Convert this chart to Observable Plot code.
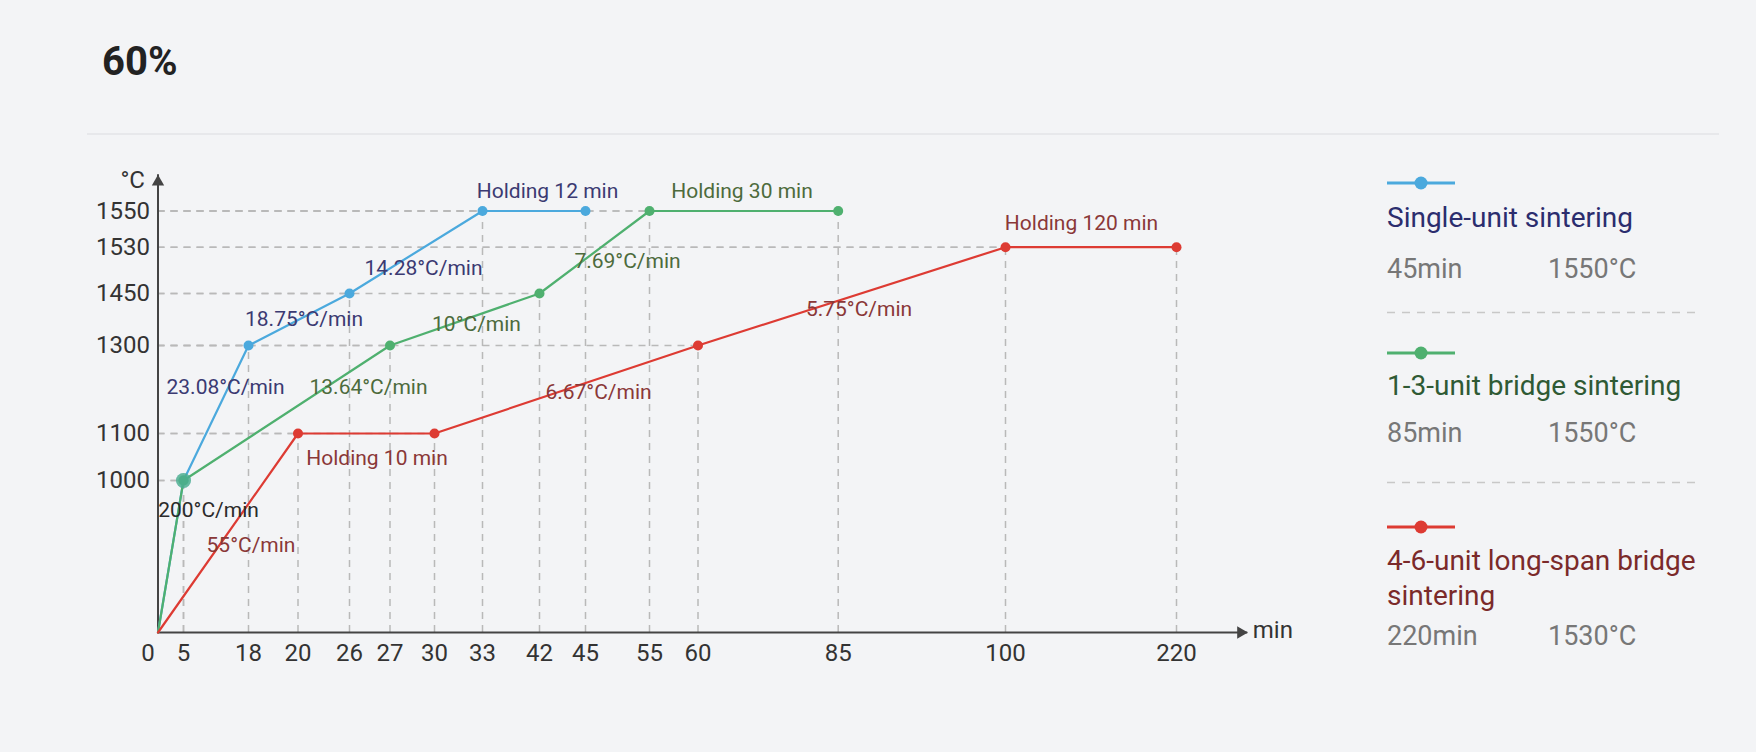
<!DOCTYPE html>
<html><head><meta charset="utf-8">
<script src="https://cdn.jsdelivr.net/npm/d3@7"></script>
<script src="https://cdn.jsdelivr.net/npm/@observablehq/plot@0.6"></script>
<style>
html,body{margin:0;padding:0;background:#f3f4f6;}
#wrap{position:relative;width:1756px;height:752px;overflow:hidden;font-family:Roboto,"Noto Sans",sans-serif;}
#chart{position:absolute;left:0;top:0;}
.abs{position:absolute;white-space:nowrap;}
</style></head><body><div id="wrap"><div id="chart"></div></div>
<script>
// ---------- data ----------
const chartTitle = "60%";
const xTicks = [0, 5, 18, 20, 26, 27, 30, 33, 42, 45, 55, 60, 85, 100, 220];
const yTicks = [1000, 1100, 1300, 1450, 1530, 1550];
const yBreaks = [0, 1000, 1100, 1300, 1450, 1530, 1550];
const seriesKeys = ["single", "bridge", "long"];
const seriesNames = ["Single-unit sintering", "1-3-unit bridge sintering", "4-6-unit long-span bridge sintering"];
const singleTime = [0, 5, 18, 26, 33, 45];
const singleTemp = [0, 1000, 1300, 1450, 1550, 1550];
const bridgeTime = [0, 5, 27, 42, 55, 85];
const bridgeTemp = [0, 1000, 1300, 1450, 1550, 1550];
const longTime = [0, 20, 30, 60, 100, 220];
const longTemp = [0, 1100, 1100, 1300, 1530, 1530];
const singleRates = ["200°C/min", "23.08°C/min", "18.75°C/min", "14.28°C/min", "Holding 12 min"];
const bridgeRates = [null, "13.64°C/min", "10°C/min", "7.69°C/min", "Holding 30 min"];
const longRates = ["55°C/min", "Holding 10 min", "6.67°C/min", "5.75°C/min", "Holding 120 min"];
const totalTimes = ["45min", "85min", "220min"];
const peakTemps = ["1550°C", "1550°C", "1530°C"];
const xUnit = "min", yUnit = "°C";

// ---------- layout / style ----------
const W = 1756, H = 752;
// piecewise (non-uniform) axis spacing, as in the reference
const xRange = [157.5, 183, 248, 297.5, 349, 389.5, 434, 482, 539, 585, 649, 697.5, 837.7, 1005, 1176];
const yRange = [632, 480, 433, 345, 293, 246.7, 210.5];
const xWarp = d3.scaleLinear().domain(xTicks).range(xRange);
const yWarp = d3.scaleLinear().domain(yBreaks).range(yRange.map(v => H - v));
const xAxisEnd = 270, yAxisTop = 1570;
const lineColors = ["#4ba9dd", "#4fb06f", "#dd3b33"];
const labelColors = ["#3b3a72", "#4d6b3c", "#8a3838"];
const legendTitleColors = ["#2b2d6e", "#2f5a34", "#7b2a2a"];
const firstLabelColor = "#2b2b2b";
const labelOffsets = [
  [[50.5, -122], [42, -93], [55.5, -26], [74, -25], [65, -19.5]],
  [null, [185, -93], [86.5, -21], [88, -32], [92.5, -19.5]],
  [[93, -87], [79, 25], [164, -41], [161, -36], [76, -23.7]]
];

const times = [singleTime, bridgeTime, longTime];
const temps = [singleTemp, bridgeTemp, longTemp];
const rates = [singleRates, bridgeRates, longRates];

const points = seriesKeys.flatMap((k, si) => times[si].map((t, i) => ({series: k, t, temp: temps[si][i], i})));
const shown = points.filter(d => d.i > 0);
const shared = shown.filter(d => shown.some(e => e.series !== d.series && e.t === d.t && e.temp === d.temp));

const gridStyle = {stroke: "#b9b9b9", strokeWidth: 1.5, strokeDasharray: "7,6"};
const labelMarks = [];
seriesKeys.forEach((k, si) => {
  rates[si].forEach((txt, i) => {
    if (!txt) return;
    const off = labelOffsets[si][i];
    labelMarks.push(Plot.text([{t: times[si][i], temp: temps[si][i], txt}], {
      x: "t", y: "temp", text: "txt", dx: off[0], dy: off[1],
      fill: (si === 0 && i === 0) ? firstLabelColor : labelColors[si],
      fontSize: 21, textAnchor: "middle", lineAnchor: "middle"
    }));
  });
});

const fmt = d => String(d);
const plot = Plot.plot({
  width: W, height: H,
  marginLeft: 157.5, marginBottom: 120, marginTop: 100, marginRight: 100,
  x: {transform: xWarp, domain: [0, W], range: [0, W], axis: null},
  y: {transform: yWarp, domain: [0, H], range: [H, 0], axis: null},
  color: {domain: seriesKeys, range: lineColors},
  style: {fontFamily: "Roboto, 'Noto Sans', sans-serif", background: "transparent", overflow: "visible"},
  marks: [
    Plot.ruleX(shown, {x: "t", y1: () => 0, y2: "temp", ...gridStyle}),
    Plot.ruleY(shown, {y: "temp", x1: () => 0, x2: "t", ...gridStyle}),
    Plot.ruleY([0], {x1: () => 0, x2: () => xAxisEnd, stroke: "#444", strokeWidth: 2}),
    Plot.ruleX([0], {y1: () => 0, y2: () => yAxisTop, stroke: "#444", strokeWidth: 2}),
    Plot.dot([xUnit], {x: () => xAxisEnd, y: () => 0, symbol: "triangle", r: 4.6, rotate: 90, dx: -7, fill: "#444"}),
    Plot.dot([yUnit], {x: () => 0, y: () => yAxisTop, symbol: "triangle", r: 4.6, dy: 7, fill: "#444"}),
    Plot.text([xUnit], {x: () => xAxisEnd, y: () => 0, text: d => d, dx: 5, dy: -2, textAnchor: "start", fontSize: 24, fill: "#333"}),
    Plot.text([yUnit], {x: () => 0, y: () => yAxisTop, text: d => d, dx: -13, dy: 6, textAnchor: "end", fontSize: 24, fill: "#333"}),
    Plot.text(xTicks.filter(d => d !== 0), {x: d => d, y: () => 0, text: fmt, dy: 21, fontSize: 24, fill: "#333", lineAnchor: "middle"}),
    Plot.text(xTicks.filter(d => d === 0), {x: d => d, y: () => 0, text: fmt, dy: 21, dx: -10, fontSize: 24, fill: "#333", lineAnchor: "middle"}),
    Plot.text(yTicks, {x: () => 0, y: d => d, text: fmt, dx: -8, textAnchor: "end", fontSize: 24, fill: "#333", lineAnchor: "middle"}),
    Plot.line(points, {x: "t", y: "temp", z: "series", stroke: "series", strokeWidth: 2.2}),
    Plot.dot(shown, {x: "t", y: "temp", fill: "series", r: 5}),
    Plot.dot(shared, {x: "t", y: "temp", fill: "series", r: 7.5, fillOpacity: 0.6}),
    ...labelMarks
  ]
});
document.getElementById("chart").appendChild(plot);

// ---------- title, separator, legend (HTML) ----------
const wrap = document.getElementById("wrap");
function add(html) { wrap.insertAdjacentHTML("beforeend", html); }
add(`<div class="abs" style="left:102px;top:38px;font-size:40px;line-height:48px;font-weight:700;color:#222">${chartTitle}</div>`);
add(`<div class="abs" style="left:87px;top:133px;width:1632px;height:2px;background:#e7e8eb"></div>`);
const legLineY = [183, 353, 527], legTitleTop = [200, 368, 543], legStatTop = [253, 417, 620], legDashY = [312, 482];
seriesKeys.forEach((k, si) => {
  add(`<svg class="abs" style="left:1380px;top:${legLineY[si] - 8}px" width="82" height="16"><line x1="7" x2="75" y1="8" y2="8" stroke="${lineColors[si]}" stroke-width="3"/><circle cx="41" cy="8" r="6.5" fill="${lineColors[si]}"/></svg>`);
  add(`<div class="abs" style="left:1387px;top:${legTitleTop[si]}px;font-size:28px;line-height:35px;color:${legendTitleColors[si]};white-space:normal;width:345px">${seriesNames[si]}</div>`);
  add(`<div class="abs" style="left:1387px;top:${legStatTop[si]}px;font-size:27px;line-height:32px;color:#777"><span style="display:inline-block;width:161px">${totalTimes[si]}</span>${peakTemps[si]}</div>`);
});
legDashY.forEach(y => add(`<svg class="abs" style="left:1387px;top:${y - 1}px" width="312" height="3"><line x1="0" x2="312" y1="1.5" y2="1.5" stroke="#c8c8c8" stroke-width="1.5" stroke-dasharray="8,7"/></svg>`));
</script></body></html>
